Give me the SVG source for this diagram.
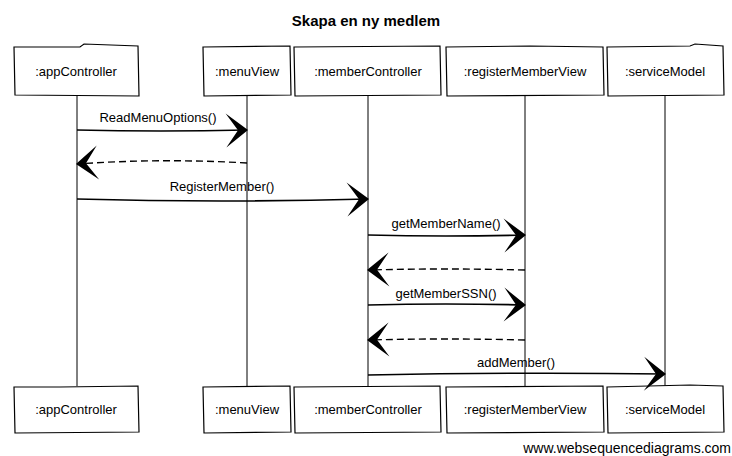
<svg xmlns="http://www.w3.org/2000/svg" width="732" height="456" viewBox="0 0 732 456">
<style>
.box{fill:#fff;stroke:#000;stroke-width:1.2}
.life{fill:none;stroke:#000;stroke-width:1}
.msg{fill:none;stroke:#000;stroke-width:1.6}
.ret{fill:none;stroke:#000;stroke-width:1.4;stroke-dasharray:7 4}
.t{font-family:"Liberation Sans",Arial,sans-serif;font-size:13px;fill:#000;text-anchor:middle}
.title{font-family:"Liberation Sans",Arial,sans-serif;font-size:15px;font-weight:bold;fill:#000;text-anchor:middle}
.foot{font-family:"Liberation Sans",Arial,sans-serif;font-size:14px;fill:#000;text-anchor:end}
</style>
<defs>
<marker id="ah" markerUnits="userSpaceOnUse" markerWidth="26" markerHeight="36" viewBox="-23 -18 26 36" refX="0" refY="0" orient="auto">
<path d="M1,0 L-21,-17 L-9,0 L-21,17 Z" fill="#000"/>
</marker>
</defs>
<rect width="732" height="456" fill="#fff"/>
<text class="title" x="366" y="26">Skapa en ny medlem</text>
<g id="lifelines">
<line class="life" x1="77" y1="96" x2="77" y2="386"/>
<line class="life" x1="247" y1="96" x2="247" y2="386"/>
<line class="life" x1="368" y1="96" x2="368" y2="386"/>
<line class="life" x1="525" y1="96" x2="525" y2="386"/>
<line class="life" x1="665" y1="96" x2="665" y2="386"/>
</g>
<g id="appController">
<path class="box" d="M14,47 L80,47 L84,44 L138,46 L139,96 L15,95 Z"/>
<text class="t" x="76" y="76">:appController</text>
<path class="box" d="M14,387 L60,387 L138,386 L139,432 L15,433 Z"/>
<text class="t" x="76" y="414">:appController</text>
</g>
<g id="menuView">
<path class="box" d="M203,47 L290,46 L291,95 L204,96 Z"/>
<text class="t" x="247" y="76">:menuView</text>
<path class="box" d="M203,387 L290,386 L291,432 L204,433 Z"/>
<text class="t" x="247" y="414">:menuView</text>
</g>
<g id="memberController">
<path class="box" d="M294,47 L440,46 L441,95 L295,96 Z"/>
<text class="t" x="368" y="76">:memberController</text>
<path class="box" d="M294,387 L440,386 L441,432 L295,433 Z"/>
<text class="t" x="368" y="414">:memberController</text>
</g>
<g id="registerMemberView">
<path class="box" d="M446,47 L530,46 L603,47 L604,95 L447,96 Z"/>
<text class="t" x="525" y="76">:registerMemberView</text>
<path class="box" d="M446,387 L603,386 L604,432 L447,433 Z"/>
<text class="t" x="525" y="414">:registerMemberView</text>
</g>
<g id="serviceModel">
<path class="box" d="M607,47 L690,46 L695,44 L723,46 L724,95 L608,96 Z"/>
<text class="t" x="665" y="76">:serviceModel</text>
<path class="box" d="M607,387 L690,385 L723,386 L724,432 L608,433 Z"/>
<text class="t" x="665" y="414">:serviceModel</text>
</g>
<g id="connectors">
<path class="msg" d="M77,130 Q160,132 247,130" marker-end="url(#ah)"/>
<text class="t" x="158" y="122">ReadMenuOptions()</text>
<path class="ret" d="M247,163 Q160,158 77,164" marker-end="url(#ah)"/>
<path class="msg" d="M77,199 Q220,203 368,199" marker-end="url(#ah)"/>
<text class="t" x="222" y="191">RegisterMember()</text>
<path class="msg" d="M368,235 Q445,237 525,235" marker-end="url(#ah)"/>
<text class="t" x="446" y="228">getMemberName()</text>
<path class="ret" d="M525,270 Q445,268 368,270" marker-end="url(#ah)"/>
<path class="msg" d="M368,305 Q445,303 525,305" marker-end="url(#ah)"/>
<text class="t" x="446" y="298">getMemberSSN()</text>
<path class="ret" d="M525,340 Q445,338 368,340" marker-end="url(#ah)"/>
<path class="msg" d="M368,375 Q520,372 665,374" marker-end="url(#ah)"/>
<text class="t" x="516" y="367">addMember()</text>
</g>
<text class="foot" x="731" y="453">www.websequencediagrams.com</text>
</svg>
